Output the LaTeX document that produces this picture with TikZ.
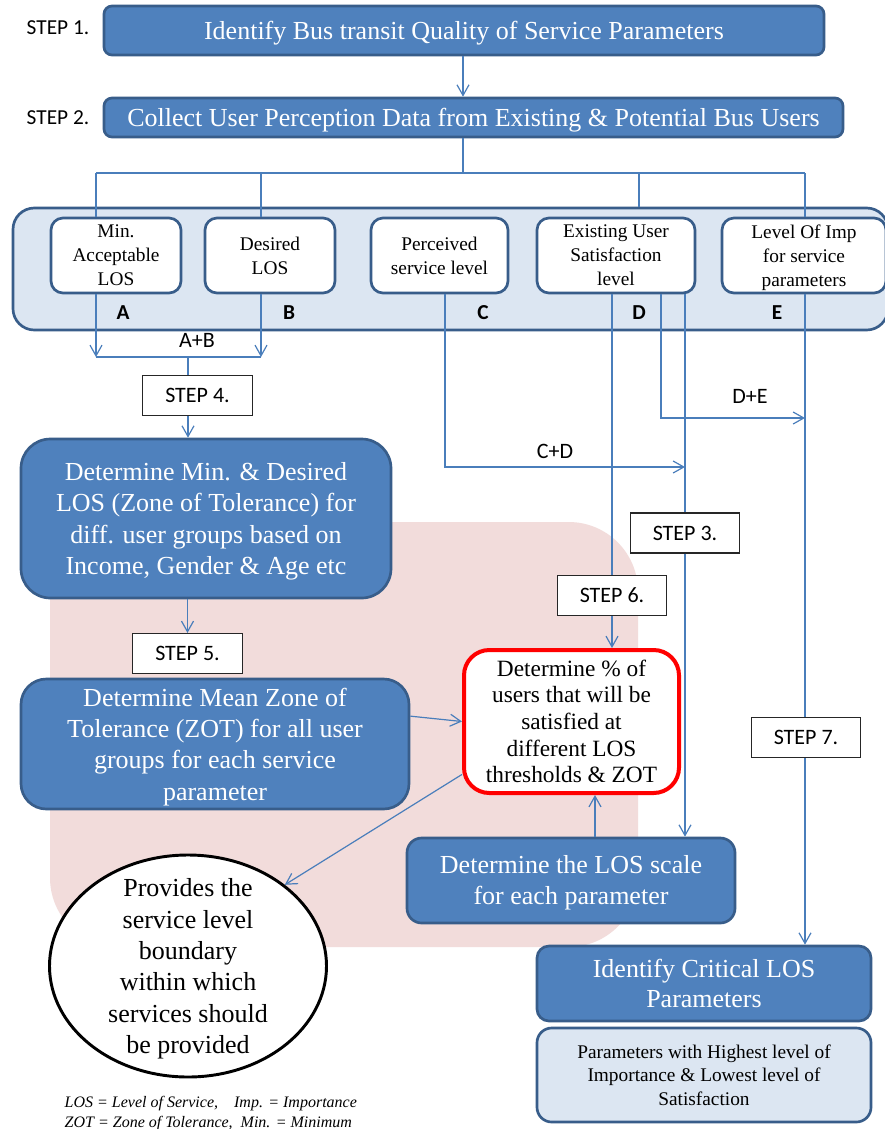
\documentclass[tikz,border=0pt]{standalone}
\usepackage{fontspec}
\setmainfont{Liberation Serif}
\newfontfamily\calibri{Carlito}
\usetikzlibrary{arrows.meta,shapes.geometric,calc}
\definecolor{myblue}{RGB}{79,129,189}
\definecolor{mydark}{RGB}{56,93,138}
\definecolor{myline}{RGB}{74,126,187}
\definecolor{mypink}{RGB}{242,220,219}
\definecolor{mylight}{RGB}{220,230,242}
\definecolor{myred}{RGB}{255,0,0}

\begin{document}
\begin{tikzpicture}[x=0.75pt,y=-0.75pt,
  >={Straight Barb[length=8pt,width=9pt]},
  conn/.style={myline,line width=0.9pt},
  bluebox/.style={draw=mydark,fill=myblue,line width=2pt,text=white,align=center,inner sep=0pt},
  smallbox/.style={draw=mydark,fill=white,line width=2pt,rounded corners=9pt,align=center,inner sep=0pt,minimum height=56.25pt,text depth=-3.5pt,font=\fontsize{14.5}{18}\selectfont},
  stepbox/.style={draw=black!85,fill=white,line width=0.8pt,minimum width=82pt,minimum height=30pt,inner sep=0pt,font=\calibri\fontsize{16.5}{19}\selectfont},
  steplbl/.style={font=\calibri\fontsize{16}{19}\selectfont},
  letter/.style={font=\calibri\bfseries\fontsize{16}{19}\selectfont},
  sumlbl/.style={font=\calibri\fontsize{16.5}{19}\selectfont},
  big/.style={font=\fontsize{19.5}{23.5}\selectfont}]

\useasboundingbox (0,0) rectangle (885,1129);
\fill[white] (0,0) rectangle (885,1129);

% background zone
\fill[mypink,rounded corners=52pt] (50,522) rectangle (638,947);

% steps 1 and 2
\node[steplbl] (lbl1) at (58,28) {STEP 1.};
\node[steplbl] (lbl2) at (58,118) {STEP 2.};
\node[bluebox,big,rounded corners=6pt,minimum width=540pt,minimum height=36.75pt,text depth=-3.5pt] (qos) at (464,30.5)
  {Identify Bus transit Quality of Service Parameters};
\node[bluebox,big,rounded corners=6pt,minimum width=554.25pt,minimum height=29.25pt,text depth=-4.5pt] (collect) at (473.5,117.5)
  {Collect User Perception Data from Existing \& Potential Bus Users};

\coordinate (hub) at (463,173);
\draw[conn,->] (hub |- qos.south) -- (hub |- collect.north);
\draw[conn] (hub |- collect.south) -- (hub);

% data panel
\node[draw=mydark,fill=mylight,line width=2pt,rounded corners=16pt,minimum width=656.25pt,minimum height=91.5pt] (panel) at (450.5,269) {};
\foreach \nm/\cx/\bw/\txt in {minA/116/97.5/{Min.\\Acceptable\\LOS},
    desB/270/97.5/{Desired\\LOS},
    perC/439.5/102.75/{Perceived\\service level},
    satD/616/118.5/{Existing User\\Satisfaction\\level},
    impE/804/123/{Level Of Imp\\for service\\parameters}}
  \node[smallbox,minimum width=\bw pt] (\nm) at (\cx,255.5) {\txt};
\foreach \l/\cx in {A/123,B/289,C/483,D/639,E/777}
  \node[letter] (let\l) at (\cx,313) {\l};

\coordinate (tA) at (96,173);
\coordinate (tB) at (261,173);
\coordinate (tD) at (639,173);
\coordinate (tE) at (805,173);
\draw[conn] (tA) -- (tE);
\draw[conn] (tA) -- (tA |- minA.north);
\draw[conn] (tB) -- (tB |- desB.north);
\draw[conn] (tD) -- (tD |- panel.north);
\draw[conn] (tE) -- (tE |- impE.north);

% A+B
\coordinate (jA) at (96,357);
\coordinate (jB) at (261,357);
\coordinate (jAB) at (188,357);
\draw[conn,->] (jA |- minA.south) -- (jA);
\draw[conn,->] (jB |- desB.south) -- (jB);
\draw[conn] (jA) -- (jB);
\node[sumlbl] (ab) at (197,340) {A+B};

\node[stepbox] (stp4) at (197.5,395.5) {STEP 4.};
\draw[conn] (jAB) -- (jAB |- stp4.north);
\node[bluebox,big,rounded corners=22pt,minimum width=277.5pt,minimum height=119.25pt,text depth=-1.75pt] (zot) at (206,518.5)
  {Determine Min. \& Desired\\LOS (Zone of Tolerance) for\\diff. user groups based on\\Income, Gender \& Age etc};
\draw[conn,->] (jAB |- stp4.south) -- (jAB |- zot.north);

\node[stepbox] (stp5) at (187.5,653.5) {STEP 5.};
\draw[conn,->] (zot.south -| stp5.north) -- (stp5.north);
\node[bluebox,big,rounded corners=19pt,minimum width=291pt,minimum height=97.5pt,text depth=-2.5pt] (mean) at (215,744)
  {Determine Mean Zone of\\Tolerance (ZOT) for all user\\groups for each service\\parameter};

\node[draw=myred,fill=white,line width=3pt,rounded corners=19pt,minimum width=161.25pt,minimum height=107.25pt,
  align=center,inner sep=0pt,font=\fontsize{17.5}{20}\selectfont] (pct) at (571.5,721.5)
  {Determine \% of\\users that will be\\satisfied at\\different LOS\\thresholds \& ZOT};
\node[bluebox,big,rounded corners=11pt,minimum width=246pt,minimum height=63.75pt,text depth=1.25pt] (scale) at (571,880.5)
  {Determine the LOS scale\\for each parameter};

\node[ellipse,draw=black,fill=white,line width=2.2pt,minimum width=207.75pt,minimum height=166.5pt,inner sep=0pt] (bound) at (188,966) {};
\node[big,align=center,text depth=-1.75pt] (boundtxt) at (bound.center)
  {Provides the\\service level\\boundary\\within which\\services should\\be provided};

\draw[conn,->] ($(mean.north east)!0.29!(mean.south east)$) -- (pct.west);
\draw[conn,->] ($(pct.north west)!0.86!(pct.south west)$) -- (bound.40);
\coordinate (up) at ([xshift=18pt]scale.north);
\draw[conn,->] (up) -- (up |- pct.south);

% C+D and D+E
\coordinate (cX) at (445,467);
\coordinate (cY) at (685,467);
\draw[conn,->] (cX |- perC.south) -- (cX) -- (cY);
\node[sumlbl] (cd) at (555,451) {C+D};
\coordinate (dX) at (661,418);
\coordinate (dY) at (805,418);
\draw[conn,->] (dX |- satD.south) -- (dX) -- (dY);
\node[sumlbl] (de) at (750,396) {D+E};

\node[stepbox] (stp6) at (612,595.5) {STEP 6.};
\draw[conn] (stp6.north |- satD.south) -- (stp6.north);
\draw[conn,->] (stp6.south) -- (stp6.south |- pct.north);
\node[stepbox] (stp3) at (685,533) {STEP 3.};
\draw[conn] (stp3.north |- satD.south) -- (stp3.north);
\draw[conn,->] (stp3.south) -- (stp3.south |- scale.north);

% step 7
\node[stepbox] (stp7) at (806,737.5) {STEP 7.};
\node[bluebox,rounded corners=9pt,minimum width=250.5pt,minimum height=56.25pt,text depth=-3pt,font=\fontsize{19.5}{22.5}\selectfont] (crit) at (704,983.5)
  {Identify Critical LOS\\Parameters};
\node[draw=mydark,fill=mylight,line width=2pt,rounded corners=11pt,minimum width=250.5pt,minimum height=70.5pt,
  align=center,inner sep=0pt,text depth=-3pt,font=\fontsize{14.5}{17.6}\selectfont] (param) at (704,1075)
  {Parameters with Highest level of\\Importance \& Lowest level of\\Satisfaction};
\draw[conn] (tE |- impE.south) -- (tE |- stp7.north);
\draw[conn,->] (tE |- stp7.south) -- (tE |- crit.north);

\node[anchor=west,align=left,font=\itshape\fontsize{12}{15}\selectfont] (note) at (60,1113.5)
  {LOS = Level of Service,\quad Imp. = Importance\\ZOT = Zone of Tolerance,\ \ Min. = Minimum};
\end{tikzpicture}
\end{document}
